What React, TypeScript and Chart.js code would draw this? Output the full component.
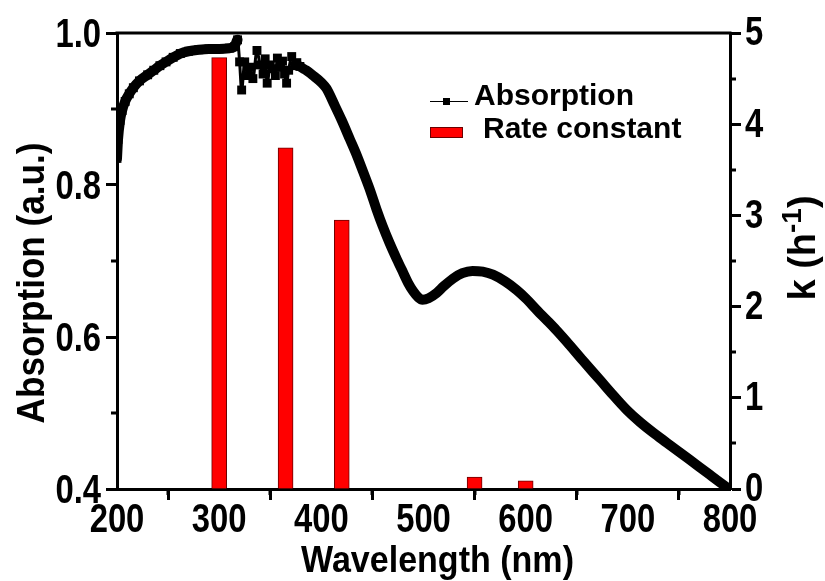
import React, { useEffect, useRef } from "react";
import { Chart, registerables } from "chart.js";

Chart.register(...registerables);

// Absorption spectrum (wavelength in nm, absorption in a.u.)
const wavelengths = [
  200, 201, 203, 205, 208, 212, 216, 222, 230, 236, 242, 248, 255, 262, 270, 280,
  290, 300, 310, 315, 318, 320, 322, 325, 328, 330, 333, 337, 340, 343, 345, 347,
  350, 352, 355, 357, 360, 362, 364, 366, 368, 371, 374, 376, 379, 385, 392, 400,
  405, 413, 420, 428, 435, 441, 448, 454, 460, 467, 474, 480, 485, 490, 495, 499,
  505, 513, 520, 529, 538, 548, 558, 568, 580, 591, 600, 612, 620, 630, 640, 656,
  673, 686, 699, 712, 725, 738, 750, 760, 770, 780, 790, 798,
];
const absorption = [
  0.835, 0.86, 0.885, 0.898, 0.91, 0.92, 0.928, 0.937, 0.945, 0.951, 0.957, 0.962, 0.968, 0.973, 0.976, 0.978,
  0.979, 0.979, 0.98, 0.982, 0.991, 0.962, 0.925, 0.962, 0.944, 0.955, 0.94, 0.977, 0.958, 0.946, 0.966, 0.934,
  0.958, 0.953, 0.944, 0.967, 0.955, 0.963, 0.946, 0.934, 0.951, 0.969, 0.957, 0.961, 0.956, 0.951, 0.944, 0.935,
  0.927, 0.905, 0.885, 0.86, 0.838, 0.817, 0.792, 0.768, 0.746, 0.723, 0.702, 0.685, 0.671, 0.66, 0.652, 0.649,
  0.651, 0.658, 0.667, 0.677, 0.684, 0.687, 0.686, 0.682, 0.673, 0.662, 0.651, 0.634, 0.623, 0.609, 0.594, 0.569,
  0.543, 0.523, 0.504, 0.488, 0.474, 0.461, 0.449, 0.439, 0.429, 0.419, 0.409, 0.401,
];

// Rate constants k (h^-1) at the irradiation wavelengths
const rateWavelengths = [300, 365, 420, 550, 600];
const rateConstants = [4.73, 3.74, 2.95, 0.13, 0.09];

// Axis ranges and ticks
const xRange = [200, 800];
const absRange = [0.4, 1.0];
const kRange = [0, 5];
const xMinorTicks = [250, 350, 450, 550, 650, 750];
const absMinorTicks = [0.5, 0.7, 0.9];
const kMinorTicks = [0.5, 1.5, 2.5, 3.5, 4.5];

// The measured spectrum is noisy between these wavelengths;
// square markers stay visible up to the end of the noisy part
const noisyBand = [318, 380];
const markerLimit = 382;

const SANS = "'Liberation Sans', Arial, sans-serif";

// draws horizontally condensed bold text (narrow face look)
function condensedText(
  ctx: CanvasRenderingContext2D,
  text: string,
  x: number,
  y: number,
  size: number,
  sx: number,
  align: CanvasTextAlign,
) {
  ctx.save();
  ctx.translate(x, y);
  ctx.scale(sx, 1);
  ctx.font = `bold ${size}px ${SANS}`;
  ctx.textAlign = align;
  ctx.textBaseline = "alphabetic";
  ctx.fillText(text, 0, 0);
  ctx.restore();
}

const TICK_SIZE = 40;
const TICK_SX = 0.82;

const decorPlugin = {
  id: "decor",
  afterDraw(chart: any) {
    const { ctx, chartArea, scales } = chart;
    const { left, right, top, bottom } = chartArea;
    ctx.save();
    ctx.strokeStyle = "#000";
    ctx.fillStyle = "#000";

    // top edge of the frame
    ctx.lineWidth = 3;
    ctx.beginPath();
    ctx.moveTo(left - 1.5, top);
    ctx.lineTo(right + 1.5, top);
    ctx.stroke();

    // minor ticks, pointing outward
    const minorLen = 6;
    ctx.lineWidth = 3;
    ctx.beginPath();
    xMinorTicks.forEach((v) => {
      const px = Math.round(scales.x.getPixelForValue(v));
      ctx.moveTo(px, bottom);
      ctx.lineTo(px, bottom + minorLen);
    });
    absMinorTicks.forEach((v) => {
      const py = Math.round(scales.y.getPixelForValue(v));
      ctx.moveTo(left, py);
      ctx.lineTo(left - minorLen, py);
    });
    kMinorTicks.forEach((v) => {
      const py = Math.round(scales.y1.getPixelForValue(v));
      ctx.moveTo(right, py);
      ctx.lineTo(right + minorLen, py);
    });
    ctx.stroke();

    // tick labels
    const capHalf = TICK_SIZE * 0.716 / 2;
    scales.x.ticks.forEach((t: any) => {
      const px = scales.x.getPixelForValue(t.value);
      condensedText(ctx, String(Math.round(t.value)), px, bottom + 43, TICK_SIZE, TICK_SX, "center");
    });
    scales.y.ticks.forEach((t: any) => {
      const py = scales.y.getPixelForValue(t.value);
      condensedText(ctx, Number(t.value).toFixed(1), left - 16, py + capHalf, TICK_SIZE, TICK_SX, "right");
    });
    scales.y1.ticks.forEach((t: any) => {
      const py = scales.y1.getPixelForValue(t.value);
      condensedText(ctx, String(Math.round(t.value)), right + 15, py + capHalf - 2, TICK_SIZE, TICK_SX, "left");
    });

    // axis titles
    condensedText(ctx, "Wavelength (nm)", (left + right) / 2 + 14, 572, 37, 0.92, "center");

    ctx.save();
    ctx.translate(44, (top + bottom) / 2 + 22);
    ctx.rotate(-Math.PI / 2);
    condensedText(ctx, "Absorption (a.u.)", 0, 0, 39, 0.9, "center");
    ctx.restore();

    // right title k (h^-1) with a superscript
    ctx.save();
    ctx.translate(right + 85, (top + bottom) / 2 - 13);
    ctx.rotate(-Math.PI / 2);
    ctx.textAlign = "left";
    const mainFont = `bold 38px ${SANS}`;
    const supFont = `bold 28px ${SANS}`;
    ctx.font = mainFont;
    const w1 = ctx.measureText("k (h").width;
    const w3 = ctx.measureText(")").width;
    ctx.font = supFont;
    const w2 = ctx.measureText("-1").width;
    let x0 = -(w1 + w2 + w3) / 2;
    ctx.font = mainFont;
    ctx.fillText("k (h", x0, 0);
    x0 += w1;
    ctx.font = supFont;
    ctx.fillText("-1", x0, -14);
    x0 += w2;
    ctx.font = mainFont;
    ctx.fillText(")", x0, 0);
    ctx.restore();

    // legend
    ctx.lineWidth = 1;
    ctx.beginPath();
    ctx.moveTo(430, 101.5);
    ctx.lineTo(468, 101.5);
    ctx.stroke();
    ctx.fillRect(443, 98, 7, 7);
    ctx.font = `bold 30px ${SANS}`;
    ctx.textAlign = "left";
    ctx.textBaseline = "alphabetic";
    ctx.fillText("Absorption", 474, 105);

    ctx.fillStyle = "#ff0000";
    ctx.fillRect(430, 127, 33, 11);
    ctx.strokeStyle = "#6b0000";
    ctx.strokeRect(430.5, 127.5, 32, 10);
    ctx.fillStyle = "#000";
    ctx.fillText("Rate constant", 483, 138);

    ctx.restore();
  },
};

const inNoisy = (x: number) => x >= noisyBand[0] && x <= noisyBand[1];

const axisGrid = {
  drawOnChartArea: false,
  drawTicks: true,
  tickLength: 11,
  tickWidth: 3,
  tickColor: "#000",
};
const axisBorder = { display: true, color: "#000", width: 3 };

export default function App() {
  const ref = useRef<HTMLCanvasElement>(null);

  useEffect(() => {
    if (!ref.current) return;
    const chart = new Chart(ref.current, {
      type: "scatter",
      data: {
        datasets: [
          {
            type: "line",
            label: "Absorption",
            data: wavelengths.map((w, i) => ({ x: w, y: absorption[i] })),
            yAxisID: "y",
            borderColor: "#000",
            backgroundColor: "#000",
            borderWidth: 10,
            borderJoinStyle: "round",
            borderCapStyle: "round",
            pointStyle: "rect",
            pointRadius: (ctx: any) => (ctx.raw && ctx.raw.x <= markerLimit ? 6.3 : 0),
            pointBorderWidth: 0,
            pointBackgroundColor: "#000",
            cubicInterpolationMode: "monotone",
            order: 1,
            segment: {
              borderWidth: (ctx: any) =>
                inNoisy(ctx.p0.parsed.x) && inNoisy(ctx.p1.parsed.x) ? 3 : 10,
            },
          } as any,
          {
            type: "bar",
            label: "Rate constant",
            data: rateWavelengths.map((w, i) => ({ x: w, y: rateConstants[i] })),
            yAxisID: "y1",
            backgroundColor: "#ff0000",
            borderColor: "#6b0000",
            borderWidth: 1,
            barThickness: 15,
            grouped: false,
            order: 2,
          } as any,
        ],
      },
      options: {
        responsive: false,
        animation: false,
        devicePixelRatio: 1,
        layout: { padding: { top: 33, left: 0, right: 0, bottom: 0 } },
        plugins: {
          legend: { display: false },
          tooltip: { enabled: false },
        },
        scales: {
          x: {
            type: "linear",
            position: "bottom",
            min: xRange[0],
            max: xRange[1],
            offset: false,
            ticks: { stepSize: 100, display: false, autoSkip: false },
            grid: axisGrid,
            border: axisBorder,
            afterFit: (s: any) => {
              s.height = 92;
            },
          },
          y: {
            type: "linear",
            position: "left",
            min: absRange[0],
            max: absRange[1],
            ticks: { stepSize: 0.2, display: false },
            grid: axisGrid,
            border: axisBorder,
            afterFit: (s: any) => {
              s.width = 117;
            },
          },
          y1: {
            type: "linear",
            position: "right",
            min: kRange[0],
            max: kRange[1],
            ticks: { stepSize: 1, display: false },
            grid: axisGrid,
            border: axisBorder,
            afterFit: (s: any) => {
              s.width = 95;
            },
          },
        },
      },
      plugins: [decorPlugin],
    });
    return () => chart.destroy();
  }, []);

  return (
    <div style={{ position: "fixed", left: 0, top: 0, width: 825, height: 581, background: "#fff" }}>
      <canvas ref={ref} width={825} height={581} style={{ display: "block" }} />
    </div>
  );
}
